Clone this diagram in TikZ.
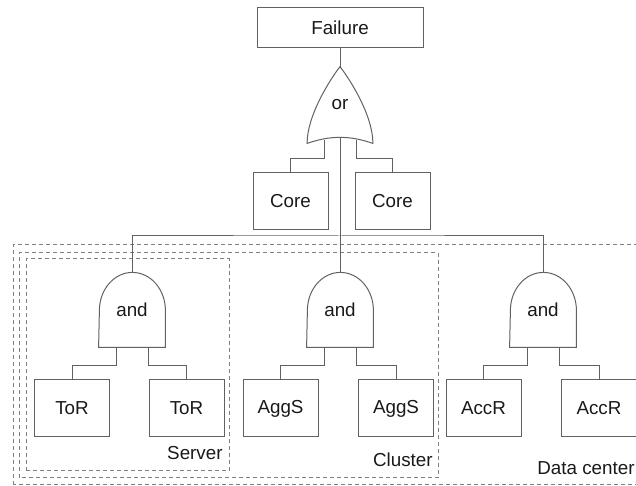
\documentclass[tikz,border=0pt]{standalone}
\usepackage{fontspec}
\setmainfont{Liberation Sans}
\begin{document}
\begin{tikzpicture}[x=0.5pt,y=0.5pt,font=\fontsize{9.4}{11}\selectfont]
		\tikzstyle{trait}=[draw=black!62,line width=0.5pt]
		\tikzstyle{boite}=[trait,rectangle,minimum width=37.5pt,minimum height=28.5pt,inner sep=0pt,text=black!90]
		\tikzstyle{porte}=[rectangle,minimum width=33pt,minimum height=37.5pt,inner sep=0pt,text=black!90]
		\tikzstyle{cadre}=[draw=black!50,line width=0.5pt,dash pattern=on 2pt off 1.5pt]
		\tikzstyle{legende}=[anchor=base east,inner sep=0pt,text=black!90]
		
		\useasboundingbox (0,0) rectangle (636,486);
		\clip (0,0) rectangle (636,486);
		
		\def\NiveauA{458}
		\def\NiveauB{381}
		\def\NiveauC{284.5}
		\def\NiveauBus{250}
		\def\NiveauD{176.5}
		\def\NiveauE{77.5}
		
		% zones en pointilles
		\draw[cadre] (26,15) rectangle (229,227);
		\draw[cadre] (19,8) rectangle (438,233);
		\draw[cadre] (13,1) rectangle (660,241);
		\node[legende] (serveur) at (223,26) {Server};
		\node[legende] (grappe) at (433,19) {Cluster};
		\node[legende] (centre) at (635,11) {Data center};
		
		\node[boite,minimum width=83pt,minimum height=20pt] (panne) at (340,\NiveauA) {Failure};
		\node[porte,minimum width=32.5pt,minimum height=38pt] (ou) at (340,\NiveauB) {or};
		\node[boite] (coeurA) at (290.5,\NiveauC) {Core};
		\node[boite] (coeurB) at (392.5,\NiveauC) {Core};
		\coordinate (bus) at (340,\NiveauBus);
		\node[porte] (etA) at (132,\NiveauD) {and};
		\node[porte] (etB) at (340,\NiveauD) {and};
		\node[porte] (etC) at (543,\NiveauD) {and};
		\node[boite] (torA) at (72,\NiveauE) {ToR};
		\node[boite] (torB) at (186.5,\NiveauE) {ToR};
		\node[boite] (aggA) at (280.5,\NiveauE) {AggS};
		\node[boite] (aggB) at (396,\NiveauE) {AggS};
		\node[boite] (accA) at (483.5,\NiveauE) {AccR};
		\node[boite] (accB) at (599,\NiveauE) {AccR};
		
		% portes
		\draw[trait] (ou.south west) .. controls +(0,28) and +(-10,-13) .. (ou.north)
			.. controls +(10,-13) and +(0,28) .. (ou.south east)
			.. controls +(-12,4) and +(12,0) .. ([yshift=3pt]ou.south)
			.. controls +(-12,0) and +(12,4) .. (ou.south west) -- cycle;
		\draw[trait] (etA.south west) -- (etA.south east) -- ++(0,37) arc[start angle=0,end angle=180,x radius=16.5pt,y radius=19pt] -- cycle;
		\draw[trait] (etB.south west) -- (etB.south east) -- ++(0,37) arc[start angle=0,end angle=180,x radius=16.5pt,y radius=19pt] -- cycle;
		\draw[trait] (etC.south west) -- (etC.south east) -- ++(0,37) arc[start angle=0,end angle=180,x radius=16.5pt,y radius=19pt] -- cycle;
		
		% liaisons
		\draw[trait] (panne) -- (ou.north);
		\draw[trait] ([yshift=3pt]ou.south) -- (etB.north);
		\draw[trait] (etA.north) |- (bus) -| (etC.north);
		\draw[trait] ([xshift=-8pt,yshift=1.5pt]ou.south) -- ++(0,-18) -| (coeurA.north);
		\draw[trait] ([xshift=8pt,yshift=1.5pt]ou.south) -- ++(0,-18) -| (coeurB.north);
		\draw[trait] ([xshift=-8pt]etA.south) -- ++(0,-18) -| (torA.north);
		\draw[trait] ([xshift=8pt]etA.south) -- ++(0,-18) -| (torB.north);
		\draw[trait] ([xshift=-8pt]etB.south) -- ++(0,-18) -| (aggA.north);
		\draw[trait] ([xshift=8pt]etB.south) -- ++(0,-18) -| (aggB.north);
		\draw[trait] ([xshift=-8pt]etC.south) -- ++(0,-18) -| (accA.north);
		\draw[trait] ([xshift=8pt]etC.south) -- ++(0,-18) -| (accB.north);
\end{tikzpicture}
\end{document}
